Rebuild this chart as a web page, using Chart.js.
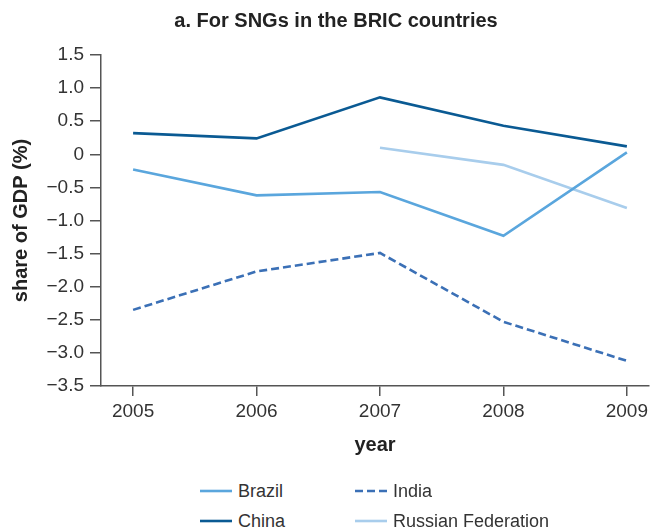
<!DOCTYPE html>
<html>
<head>
    <title>SNGs in the BRIC countries</title>
    <script src="https://cdn.jsdelivr.net/npm/chart.js"></script>
    <style>
        body { margin:0; background:#fff; }
        #wrap { position:relative; width:652px; height:531px; }
        #legend { position:absolute; left:200px; top:478px; width:420px; font-family:"Liberation Sans", Arial, sans-serif; font-size:18px; color:#333; }
        .item { position:absolute; display:flex; align-items:center; height:26px; white-space:nowrap; }
        .item canvas { margin-right:6px; }
    </style>
</head>
<body>
<div id="wrap">
    <canvas id="chart" width="652" height="466"></canvas>
    <div id="legend"></div>
</div>
<script>
// data (share of GDP, %)
const years = [2005, 2006, 2007, 2008, 2009];
const brazil = [-0.23, -0.62, -0.57, -1.23, 0.03];
const china = [0.32, 0.24, 0.86, 0.43, 0.12];
const india = [-2.35, -1.77, -1.49, -2.53, -3.12];
const russia = [null, null, 0.10, -0.16, -0.81];
const yTicks = [1.5, 1.0, 0.5, 0, -0.5, -1.0, -1.5, -2.0, -2.5, -3.0, -3.5];

const series = [
    {label:'Brazil', values:brazil, color:'#5aa6dd', dash:[]},
    {label:'China', values:china, color:'#0a5a93', dash:[]},
    {label:'India', values:india, color:'#3b70b6', dash:[8,4]},
    {label:'Russian Federation', values:russia, color:'#a8cdec', dash:[]}
];

const font = "'Liberation Sans', Arial, sans-serif";
const boldFont = "'Liberation Sans Narrow', 'Liberation Sans', Arial, sans-serif";
const axisColor = '#555';

const datasets = series.map(s=>({
    label:s.label,
    data:years.map((y,i)=>({x:y, y:s.values[i]})).filter(p=>p.y!==null),
    borderColor:s.color,
    backgroundColor:s.color,
    borderDash:s.dash,
    borderWidth:2.6,
    pointRadius:0,
    tension:0,
    fill:false
}));

const fmt = v => v===0 ? '0' : (v<0 ? '\u2212' : '') + Math.abs(v).toFixed(1);

new Chart(document.getElementById('chart'), {
    type:'line',
    data:{datasets},
    options:{
        responsive:false,
        animation:false,
        devicePixelRatio:1,
        layout:{padding:{left:20, right:0, top:0, bottom:0}},
        plugins:{
            legend:{display:false},
            tooltip:{enabled:false},
            title:{
                display:true,
                text:'a. For SNGs in the BRIC countries',
                color:'#222',
                font:{family:boldFont, size:20, weight:'bold'},
                padding:{top:9, bottom:22}
            }
        },
        scales:{
            x:{
                type:'linear',
                min:2004.74,
                max:2009.18,
                afterBuildTicks:s=>{ s.ticks = years.map(v=>({value:v})); },
                afterFit:s=>{ s.height = 80; },
                border:{color:axisColor, width:1.5},
                grid:{drawOnChartArea:false, color:axisColor, tickLength:10, lineWidth:1.5},
                ticks:{color:'#333', font:{family:font, size:19}, padding:4, callback:v=>String(v), maxRotation:0},
                title:{display:true, text:'year', color:'#222', font:{family:boldFont, size:20, weight:'bold'}, padding:{top:0, bottom:9}}
            },
            y:{
                min:-3.5,
                max:1.5,
                afterBuildTicks:s=>{ s.ticks = yTicks.map(v=>({value:v})); },
                afterFit:s=>{ s.width = 81; },
                border:{color:axisColor, width:1.5},
                grid:{drawOnChartArea:false, color:axisColor, tickLength:11, lineWidth:1.5},
                ticks:{color:'#333', font:{family:font, size:19}, padding:6, callback:fmt},
                title:{display:true, text:'share of GDP (%)', color:'#222', font:{family:boldFont, size:20, weight:'bold'}, padding:{top:-11, bottom:0}}
            }
        }
    }
});

// two-column legend under the chart
const legend = document.getElementById('legend');
const pos = [[0,0],[0,30],[155,0],[155,30]];
series.forEach((s,i)=>{
    const d = document.createElement('div');
    d.className = 'item';
    d.style.left = pos[i][0]+'px';
    d.style.top = pos[i][1]+'px';
    const c = document.createElement('canvas');
    c.width = 32; c.height = 6;
    const g = c.getContext('2d');
    g.strokeStyle = s.color; g.lineWidth = 2.6; g.setLineDash(s.dash);
    g.beginPath(); g.moveTo(0,3); g.lineTo(32,3); g.stroke();
    d.appendChild(c);
    const t = document.createElement('span');
    t.textContent = s.label;
    d.appendChild(t);
    legend.appendChild(d);
});
</script>
</body>
</html>
